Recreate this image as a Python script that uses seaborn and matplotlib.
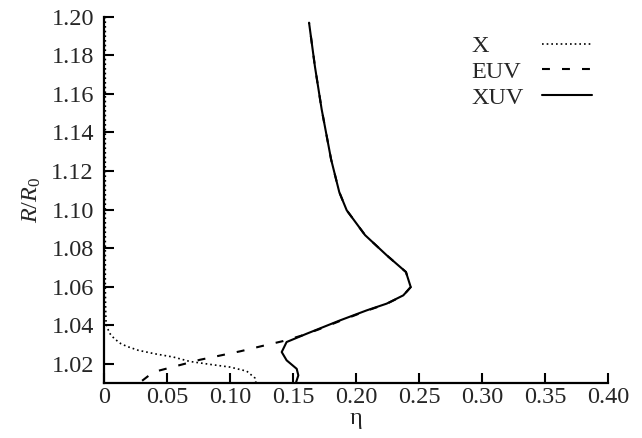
import matplotlib
matplotlib.use("Agg")
import matplotlib.pyplot as plt
import seaborn as sns
import numpy as np

# ---- data ----
x_eta = [0.0008, 0.0008, 0.0010, 0.0014, 0.0040, 0.0080, 0.0130, 0.0180, 0.0270,
         0.0400, 0.0548, 0.0680, 0.0850, 0.0998, 0.1130, 0.1196, 0.1204]
x_r = [1.2000, 1.0600, 1.0500, 1.0408, 1.0360, 1.0330, 1.0305, 1.0290, 1.0270,
       1.0252, 1.0235, 1.0212, 1.0196, 1.0183, 1.0162, 1.0126, 1.0100]

euv_eta = [0.030, 0.0389, 0.076, 0.108, 0.127, 0.142, 0.156, 0.170, 0.187, 0.2082,
           0.2241, 0.2373, 0.2432, 0.2394, 0.2241, 0.2070, 0.1924, 0.1865, 0.1800,
           0.1725, 0.1672, 0.1625]
euv_r = [1.0112, 1.0157, 1.0221, 1.0265, 1.0295, 1.0318, 1.0345, 1.0378, 1.0422, 1.0475,
         1.0511, 1.0554, 1.0598, 1.0676, 1.0763, 1.0867, 1.0996, 1.1090, 1.1260,
         1.1520, 1.1740, 1.1969]

xuv_eta = [0.1625, 0.1672, 0.1725, 0.1800, 0.1865, 0.1924, 0.2070, 0.2241, 0.2394,
           0.2432, 0.2373, 0.2241, 0.2082, 0.1870, 0.1606, 0.1447, 0.1408, 0.1447,
           0.1527, 0.1540, 0.1520]
xuv_r = [1.1969, 1.1740, 1.1520, 1.1260, 1.1090, 1.0996, 1.0867, 1.0763, 1.0676,
         1.0598, 1.0555, 1.0512, 1.0477, 1.0425, 1.0356, 1.0313, 1.0261, 1.0218,
         1.0174, 1.0140, 1.0100]

series_labels = ["X", "EUV", "XUV"]
x_ticks = [0, 0.05, 0.10, 0.15, 0.20, 0.25, 0.30, 0.35, 0.40]
x_tick_labels = ["0", "0.05", "0.10", "0.15", "0.20", "0.25", "0.30", "0.35", "0.40"]
y_ticks = [1.02, 1.04, 1.06, 1.08, 1.10, 1.12, 1.14, 1.16, 1.18, 1.20]
y_tick_labels = ["1.02", "1.04", "1.06", "1.08", "1.10", "1.12", "1.14", "1.16", "1.18", "1.20"]

# ---- style ----
sns.set_style("ticks")
plt.rcParams["font.family"] = ["Liberation Serif", "DejaVu Serif"]
plt.rcParams["mathtext.fontset"] = "custom"
plt.rcParams["mathtext.rm"] = "Liberation Serif"
plt.rcParams["mathtext.it"] = "Liberation Serif:italic"
FS = 17.5

fig = plt.figure(figsize=(6.42, 4.38), dpi=100)
ax = fig.add_axes([104.3 / 642, 1 - 382.7 / 438, (608.3 - 104.3) / 642, (382.7 - 16.7) / 438])

sns.lineplot(x=x_eta, y=x_r, sort=False, estimator=None, ax=ax, color="black",
             lw=1.2, linestyle=(0, (1, 1.8)), label=series_labels[0], zorder=2)
sns.lineplot(x=euv_eta, y=euv_r, sort=False, estimator=None, ax=ax, color="black",
             lw=1.5, linestyle=(0, (3.8, 5.8)), label=series_labels[1], zorder=3)
sns.lineplot(x=xuv_eta, y=xuv_r, sort=False, estimator=None, ax=ax, color="black",
             lw=1.5, linestyle="-", label=series_labels[2], zorder=4)

ax.set_xlim(0, 0.40)
ax.set_ylim(1.0102, 1.20)
ax.set_xticks(x_ticks)
ax.set_xticklabels(x_tick_labels)
ax.set_yticks(y_ticks)
ax.set_yticklabels(y_tick_labels)
ax.tick_params(axis="both", direction="in", labelsize=FS, width=1.5, length=7, color="black")
ax.tick_params(axis="x", pad=3)
ax.tick_params(axis="y", pad=7.5)
sns.despine(ax=ax)
for s in ["left", "bottom"]:
    ax.spines[s].set_linewidth(1.6)
    ax.spines[s].set_color("black")

ax.set_xlabel("η", fontsize=FS, labelpad=0)
ax.set_ylabel("$R/R_0$", fontsize=FS, labelpad=6)

leg = ax.legend(loc="upper right", bbox_to_anchor=(591.7 / 642, 1 - 35.2 / 438),
                bbox_transform=fig.transFigure, frameon=False, markerfirst=False,
                fontsize=FS, handlelength=2.06, handletextpad=0.2, labelspacing=0.15,
                borderpad=0, borderaxespad=0)
W = 591.7 - 471.7
for col in leg._legend_handle_box.get_children():
    for item in col.get_children():
        item.mode = "expand"
        item.width = W

fig.savefig("out.png", dpi=100)
